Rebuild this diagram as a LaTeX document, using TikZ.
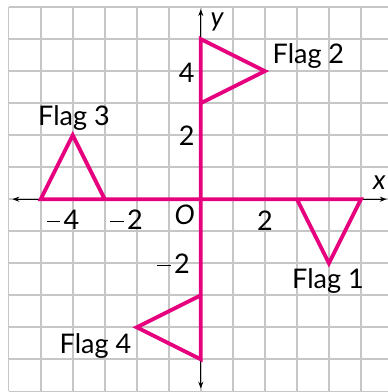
\documentclass[tikz,border=0pt]{standalone}
\usepackage{fontspec}
\setmainfont{Lato}
\usepackage{tikz}
\usetikzlibrary{arrows.meta}
\definecolor{flagc}{HTML}{E6007E}
\definecolor{gridc}{HTML}{C6C6C6}
\tikzset{
  gridline/.style={draw=gridc, line width=1.5pt},
  axis/.style={draw=black, line width=0.7pt, -{Stealth[length=6pt,width=4.5pt]}},
  flag/.style={draw=flagc, line width=3.4pt, line join=miter},
  lbl/.style={font=\fontsize{24}{28}\selectfont, inner sep=0pt, anchor=base},
}
\newcommand{\mns}{\rule[0.28em]{0.5em}{0.065em}\hspace{0.12em}}

\begin{document}
\begin{tikzpicture}
\useasboundingbox (-6.27,-6.02) rectangle (5.84,6.22);
\clip (-6.27,-6.02) rectangle (5.84,6.22);
\draw[gridline] (-6,-6) grid (6,6);
\draw[axis] (0,0) -- (5.80,0);
\draw[axis] (0,0) -- (-5.88,0);
\draw[axis] (0,0) -- (0,5.93);
\draw[axis] (0,0) -- (0,-5.91);
\draw[flag] (0,0) -- (5,0) -- (4,-2) -- (3,0);
\draw[flag] (0,0) -- (0,5) -- (2,4) -- (0,3);
\draw[flag] (0,0) -- (-5,0) -- (-4,2) -- (-3,0);
\draw[flag] (0,0) -- (0,-5) -- (-2,-4) -- (0,-3);
\node[lbl] (flagone) at (3.97,-2.80) {Flag 1};
\node[lbl] (flagtwo) at (3.36,4.25) {Flag 2};
\node[lbl] (flagthree) at (-3.96,2.29) {Flag 3};
\node[lbl] (flagfour) at (-3.29,-4.81) {Flag 4};
\node[lbl] (xfour) at (-4.30,-0.96) {\mns 4};
\node[lbl] (xtwo) at (-2.32,-0.96) {\mns 2};
\node[lbl] (xptwo) at (2.00,-0.99) {2};
\node[lbl] (yfour) at (-0.44,3.65) {4};
\node[lbl] (yptwo) at (-0.44,1.69) {2};
\node[lbl] (ytwo) at (-0.85,-2.33) {\mns 2};
\node[lbl] (orig) at (-0.50,-0.80) {\itshape O};
\node[lbl] (xlbl) at (5.58,0.29) {\itshape x};
\node[lbl] (ylbl) at (0.51,5.40) {\itshape y};
\end{tikzpicture}
\end{document}
